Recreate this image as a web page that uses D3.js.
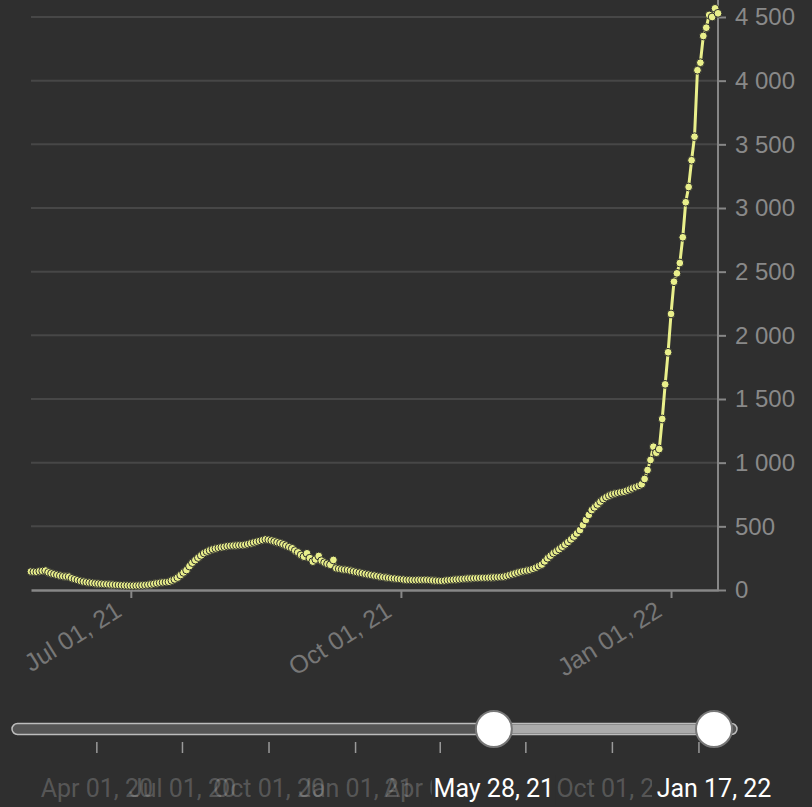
<!DOCTYPE html>
<html>
<head>
<meta charset="utf-8">
<script src="https://cdn.jsdelivr.net/npm/d3@7"></script>
<style>
body { margin: 0; background: #2f2f2f; }
svg { display: block; font-family: Roboto, sans-serif; }
</style>
</head>
<body>
<svg id="chart" width="812" height="807"></svg>
<script>
// daily values, May 28 2021 -> Jan 17 2022
let firstDay = '2021-05-28';
let values = [
  145, 143, 142, 148, 150, 152, 138, 130, 124, 118,
  112, 108, 106, 104, 92, 85, 78, 71, 65, 61,
  58, 55, 52, 50, 48, 46, 45, 43, 42, 40,
  39, 37, 36, 35, 34, 34, 35, 36, 38, 40,
  42, 45, 49, 53, 57, 60, 62, 65, 75, 84,
  98, 118, 138, 157, 188, 215, 235, 255, 272, 290,
  302, 312, 320, 326, 331, 336, 340, 345, 347, 349,
  350, 352, 353, 356, 361, 367, 374, 380, 386, 392,
  398, 394, 388, 381, 374, 367, 358, 348, 337, 327,
  309, 295, 275, 262, 288, 250, 223, 240, 267, 230,
  215, 205, 198, 236, 170, 166, 162, 159, 157, 151,
  146, 141, 136, 131, 126, 121, 117, 113, 109, 105,
  101, 98, 95, 92, 90, 87, 85, 82, 79, 79,
  78, 78, 79, 79, 80, 79, 77, 75, 73, 72,
  71, 74, 77, 79, 81, 83, 85, 87, 89, 91,
  92, 93, 94, 95, 96, 96, 97, 98, 100, 101,
  103, 105, 110, 117, 124, 131, 138, 144, 149, 153,
  157, 166, 176, 188, 200, 225, 250, 270, 290, 305,
  322, 340, 358, 378, 398, 420, 445, 471, 510, 550,
  590, 628, 650, 672, 695, 715, 730, 742, 752, 758,
  763, 768, 772, 781, 790, 799, 808, 818, 830, 872,
  942, 1021, 1125, 1078, 1107, 1343, 1615, 1867, 2168, 2421,
  2487, 2568, 2770, 3045, 3165, 3375, 3560, 4082, 4141, 4351,
  4416, 4516, 4500, 4568, 4529
];
let yTicks = [0, 500, 1000, 1500, 2000, 2500, 3000, 3500, 4000, 4500];
let xTicks = ['2021-07-01', '2021-10-01', '2022-01-01'];
let sliderRange = ['2020-01-22', '2022-01-17'];
let sliderTicks = ['2020-04-01', '2020-07-01', '2020-10-01', '2021-01-01',
                   '2021-04-01', '2021-07-01', '2021-10-01', '2022-01-01'];
let handles = ['2021-05-28', '2022-01-17'];

let parse = d3.timeParse('%Y-%m-%d');
let fmtDate = d3.timeFormat('%b %d, %y');
let fmtNum = d3.formatLocale({decimal: '.', thousands: ' ', grouping: [3], currency: ['', '']}).format(',');

let start = parse(firstDay);
let data = values.map((v, i) => ({date: d3.timeDay.offset(start, i), value: v}));

let svg = d3.select('#chart');
let x = d3.scaleTime()
  .domain([data[0].date, data[data.length - 1].date])
  .range([31, 718]);
let y = d3.scaleLinear().domain([0, 4500]).range([590, 17]);

// grid
svg.append('g')
  .selectAll('line')
  .data(yTicks.slice(1))
  .enter()
  .append('line')
  .attr('x1', 31).attr('x2', 718)
  .attr('y1', d => y(d)).attr('y2', d => y(d))
  .attr('stroke', '#474747')
  .attr('stroke-width', 2);

// x axis
let xAxis = svg.append('g')
  .attr('transform', 'translate(0,590)')
  .call(d3.axisBottom(x).tickValues(xTicks.map(parse)).tickFormat(fmtDate).tickSize(8).tickSizeOuter(0));
xAxis.select('.domain').attr('stroke', '#878787').attr('stroke-width', 2.5);
xAxis.selectAll('.tick line').attr('stroke', '#878787').attr('stroke-width', 2);
xAxis.selectAll('.tick text')
  .attr('fill', '#777')
  .attr('font-size', 25)
  .attr('text-anchor', 'end')
  .attr('y', 0).attr('dy', 0)
  .attr('transform', 'translate(-8,25) rotate(-32)');

// y axis on the right
let yAxis = svg.append('g')
  .attr('transform', 'translate(718,0)')
  .call(d3.axisRight(y).tickValues(yTicks).tickFormat(fmtNum).tickSize(8).tickSizeOuter(0));
yAxis.select('.domain').attr('stroke', '#878787').attr('stroke-width', 2).attr('d', 'M0,0V590');
yAxis.selectAll('.tick line').attr('stroke', '#878787').attr('stroke-width', 2);
yAxis.selectAll('.tick text')
  .attr('fill', '#898989')
  .attr('font-size', 24)
  .attr('x', 17);

// series
let line = d3.line().x(d => x(d.date)).y(d => y(d.value));
svg.append('path')
  .datum(data)
  .attr('d', line)
  .attr('fill', 'none')
  .attr('stroke', '#e9ef8b')
  .attr('stroke-width', 3);

svg.append('g')
  .selectAll('circle')
  .data(data)
  .enter()
  .append('circle')
  .attr('cx', d => x(d.date))
  .attr('cy', d => y(d.value))
  .attr('r', 3.9)
  .attr('fill', '#e9ef8b')
  .attr('stroke', '#2f2f2f')
  .attr('stroke-width', 1);

// range slider
let sx = d3.scaleTime().domain(sliderRange.map(parse)).range([31, 714]);
let slider = svg.append('g').attr('transform', 'translate(0,729)');
let h0 = sx(parse(handles[0])), h1 = sx(parse(handles[1]));

slider.append('rect')
  .attr('x', sx.range()[0] - 19).attr('y', -5.5)
  .attr('width', sx.range()[1] - sx.range()[0] + 42).attr('height', 11)
  .attr('rx', 5.5)
  .attr('fill', '#555')
  .attr('stroke', '#bdbdbd')
  .attr('stroke-width', 1.5);
slider.append('rect')
  .attr('x', h0).attr('y', -4.5)
  .attr('width', h1 - h0).attr('height', 9)
  .attr('fill', '#ababab');

slider.selectAll('.stick')
  .data(sliderTicks.map(parse))
  .enter()
  .append('line')
  .attr('x1', d => sx(d)).attr('x2', d => sx(d))
  .attr('y1', 13).attr('y2', 24)
  .attr('stroke', '#9a9a9a')
  .attr('stroke-width', 1.5);

slider.selectAll('.slabel')
  .data(sliderTicks.map(parse).filter(d => Math.abs(sx(d) - h0) > 40 && Math.abs(sx(d) - h1) > 40))
  .enter()
  .append('text')
  .attr('x', d => sx(d))
  .attr('y', 68)
  .attr('text-anchor', 'middle')
  .attr('font-size', 25)
  .attr('fill', '#fff')
  .attr('fill-opacity', 0.2)
  .text(fmtDate);

let hs = slider.selectAll('.handle')
  .data(handles.map(parse))
  .enter()
  .append('g')
  .attr('transform', d => 'translate(' + sx(d) + ',0)');
hs.append('circle')
  .attr('r', 18)
  .attr('fill', '#fff')
  .attr('stroke', '#777')
  .attr('stroke-width', 2);
hs.append('rect')
  .attr('x', -62).attr('y', 46)
  .attr('width', 124).attr('height', 30)
  .attr('fill', '#2f2f2f');
hs.append('text')
  .attr('y', 68)
  .attr('text-anchor', 'middle')
  .attr('font-size', 25)
  .attr('fill', '#fff')
  .text(fmtDate);
</script>
</body>
</html>
